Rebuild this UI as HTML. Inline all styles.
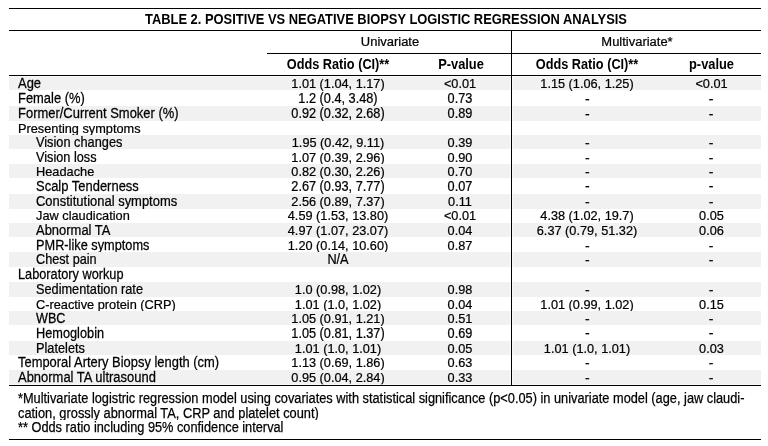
<!DOCTYPE html>
<html><head><meta charset="utf-8"><title>Table 2</title>
<style>
html,body{margin:0;padding:0;background:#fff;}
body{width:768px;height:446px;position:relative;overflow:hidden;font-family:"Liberation Sans",Arial,sans-serif;font-size:14px;color:#000;-webkit-text-stroke:0.25px #000;}
.l{position:absolute;background:#000;}
.h{position:absolute;background:rgba(255,255,255,.6);}
.r{position:absolute;left:9px;width:752px;}
.r.s{background:#f1f1f1;}
.r span{position:absolute;top:0.7px;line-height:14.76px;white-space:nowrap;text-align:center;transform:scaleX(0.909);transform-origin:50% 12.23px;}
.t{position:absolute;white-space:nowrap;text-align:center;transform:scaleX(0.926);transform-origin:50% 50%;}
.r span.d{top:1.6px;}
.b{font-weight:bold;-webkit-text-stroke:0;transform:scaleX(0.918) !important;}
.c0{left:9px;text-align:left !important;transform-origin:0 12.23px !important;}
.c0.i{left:27px;}
.c1{left:258px;width:142px;}
.c2{left:400px;width:102px;}
.c3{left:501.3px;width:154px;}
.c4{left:654.6px;width:95px;}
.f{position:absolute;left:18px;white-space:nowrap;transform:scaleX(0.915);transform-origin:0 0;}
</style></head><body>
<div class="r s" style="top:75.50px;height:14.90px"><div style="position:absolute;left:0;top:0px"><span class="c0" style="transform:scale(0.9260,1.0076)">Age</span><span class="c1" style="transform:scale(0.9090,0.9673)">1.01 (1.04, 1.17)</span><span class="c2" style="transform:scale(0.9090,0.9673)">&lt;0.01</span><span class="c3" style="transform:scale(0.9090,0.9673)">1.15 (1.06, 1.25)</span><span class="c4" style="transform:scale(0.9090,0.9673)">&lt;0.01</span></div></div>
<div class="r" style="top:90.40px;height:15.30px"><div style="position:absolute;left:0;top:0px"><span class="c0" style="transform:scale(0.9232,1.0293)">Female (%)</span><span class="c1" style="transform:scale(0.9090,0.9881)">1.2 (0.4, 3.48)</span><span class="c2" style="transform:scale(0.9090,0.9881)">0.73</span><span class="c3 d" style="top:1.6px;transform:scale(1.0,0.9881)">-</span><span class="c4 d" style="top:1.6px;transform:scale(1.0,0.9881)">-</span></div></div>
<div class="r s" style="top:105.70px;height:15.40px"><div style="position:absolute;left:0;top:0px"><span class="c0" style="transform:scale(0.9260,1.0347)">Former/Current Smoker (%)</span><span class="c1" style="transform:scale(0.9090,0.9933)">0.92 (0.32, 2.68)</span><span class="c2" style="transform:scale(0.9090,0.9933)">0.89</span><span class="c3 d" style="top:1.6px;transform:scale(1.0,0.9933)">-</span><span class="c4 d" style="top:1.6px;transform:scale(1.0,0.9933)">-</span></div></div>
<div class="r" style="top:121.10px;height:13.80px"><div style="position:absolute;left:0;top:-0.5px"><span class="c0" style="transform:scale(0.9103,0.9520)">Presenting symptoms</span></div></div>
<div class="r s" style="top:134.90px;height:14.40px"><div style="position:absolute;left:0;top:-0.9px"><span class="c0 i" style="transform:scale(0.9121,0.9805)">Vision changes</span><span class="c1" style="transform:scale(0.9090,0.9413)">1.95 (0.42, 9.11)</span><span class="c2" style="transform:scale(0.9090,0.9413)">0.39</span><span class="c3 d" style="top:0.5px;transform:scale(1.0,0.9413)">-</span><span class="c4 d" style="top:0.5px;transform:scale(1.0,0.9413)">-</span></div></div>
<div class="r" style="top:149.30px;height:14.75px"><div style="position:absolute;left:0;top:0px"><span class="c0 i" style="transform:scale(0.9075,0.9995)">Vision loss</span><span class="c1" style="transform:scale(0.9090,0.9595)">1.07 (0.39, 2.96)</span><span class="c2" style="transform:scale(0.9090,0.9595)">0.90</span><span class="c3 d" style="top:0.5px;transform:scale(1.0,0.9595)">-</span><span class="c4 d" style="top:0.5px;transform:scale(1.0,0.9595)">-</span></div></div>
<div class="r s" style="top:164.05px;height:14.35px"><div style="position:absolute;left:0;top:-0.9px"><span class="c0 i" style="transform:scale(0.9130,0.9778)">Headache</span><span class="c1" style="transform:scale(0.9090,0.9387)">0.82 (0.30, 2.26)</span><span class="c2" style="transform:scale(0.9090,0.9387)">0.70</span><span class="c3 d" style="top:0.5px;transform:scale(1.0,0.9387)">-</span><span class="c4 d" style="top:0.5px;transform:scale(1.0,0.9387)">-</span></div></div>
<div class="r" style="top:178.40px;height:15.90px"><div style="position:absolute;left:0;top:-0.3px"><span class="c0 i" style="transform:scale(0.9260,1.0400)">Scalp Tenderness</span><span class="c1" style="transform:scale(0.9090,0.9984)">2.67 (0.93, 7.77)</span><span class="c2" style="transform:scale(0.9090,0.9984)">0.07</span><span class="c3 d" style="top:1.4px;transform:scale(1.0,0.9984)">-</span><span class="c4 d" style="top:1.4px;transform:scale(1.0,0.9984)">-</span></div></div>
<div class="r s" style="top:194.30px;height:14.55px"><div style="position:absolute;left:0;top:-1.3px"><span class="c0 i" style="transform:scale(0.9260,0.9886)">Constitutional symptoms</span><span class="c1" style="transform:scale(0.9090,0.9491)">2.56 (0.89, 7.37)</span><span class="c2" style="transform:scale(0.9090,0.9491)">0.11</span><span class="c3 d" style="top:0.9px;transform:scale(1.0,0.9491)">-</span><span class="c4 d" style="top:0.9px;transform:scale(1.0,0.9491)">-</span></div></div>
<div class="r" style="top:208.85px;height:13.95px"><div style="position:absolute;left:0;top:-1.3px"><span class="c0 i" style="transform:scale(0.9130,0.9561)">Jaw claudication</span><span class="c1" style="transform:scale(0.9090,0.9179)">4.59 (1.53, 13.80)</span><span class="c2" style="transform:scale(0.9090,0.9179)">&lt;0.01</span><span class="c3" style="transform:scale(0.9090,0.9179)">4.38 (1.02, 19.7)</span><span class="c4" style="transform:scale(0.9090,0.9179)">0.05</span></div></div>
<div class="r s" style="top:222.80px;height:14.50px"><div style="position:absolute;left:0;top:-0.6px"><span class="c0 i" style="transform:scale(0.9260,0.9859)">Abnormal TA</span><span class="c1" style="transform:scale(0.9090,0.9465)">4.97 (1.07, 23.07)</span><span class="c2" style="transform:scale(0.9090,0.9465)">0.04</span><span class="c3" style="transform:scale(0.9090,0.9465)">6.37 (0.79, 51.32)</span><span class="c4" style="transform:scale(0.9090,0.9465)">0.06</span></div></div>
<div class="r" style="top:237.30px;height:15.10px"><div style="position:absolute;left:0;top:-0.4px"><span class="c0 i" style="transform:scale(0.9112,1.0184)">PMR-like symptoms</span><span class="c1" style="transform:scale(0.9090,0.9777)">1.20 (0.14, 10.60)</span><span class="c2" style="transform:scale(0.9090,0.9777)">0.87</span><span class="c3 d" style="top:0.9px;transform:scale(1.0,0.9777)">-</span><span class="c4 d" style="top:0.9px;transform:scale(1.0,0.9777)">-</span></div></div>
<div class="r s" style="top:252.40px;height:14.40px"><div style="position:absolute;left:0;top:-0.9px"><span class="c0 i" style="transform:scale(0.9056,0.9805)">Chest pain</span><span class="c1" style="transform:scale(0.9090,0.9805)">N/A</span><span class="c3 d" style="top:0.5px;transform:scale(1.0,0.9413)">-</span><span class="c4 d" style="top:0.5px;transform:scale(1.0,0.9413)">-</span></div></div>
<div class="r" style="top:266.80px;height:15.50px"><div style="position:absolute;left:0;top:-0.4px"><span class="c0" style="transform:scale(0.9103,1.0400)">Laboratory workup</span></div></div>
<div class="r s" style="top:282.30px;height:14.40px"><div style="position:absolute;left:0;top:-1.0px"><span class="c0 i" style="transform:scale(0.9103,0.9805)">Sedimentation rate</span><span class="c1" style="transform:scale(0.9090,0.9413)">1.0 (0.98, 1.02)</span><span class="c2" style="transform:scale(0.9090,0.9413)">0.98</span><span class="c3 d" style="top:0.5px;transform:scale(1.0,0.9413)">-</span><span class="c4 d" style="top:0.5px;transform:scale(1.0,0.9413)">-</span></div></div>
<div class="r" style="top:296.70px;height:13.80px"><div style="position:absolute;left:0;top:-0.4px"><span class="c0 i" style="transform:scale(0.9121,0.9520)">C-reactive protein (CRP)</span><span class="c1" style="transform:scale(0.9090,0.9139)">1.01 (1.0, 1.02)</span><span class="c2" style="transform:scale(0.9090,0.9139)">0.04</span><span class="c3" style="transform:scale(0.9090,0.9139)">1.01 (0.99, 1.02)</span><span class="c4" style="transform:scale(0.9090,0.9139)">0.15</span></div></div>
<div class="r s" style="top:310.50px;height:14.80px"><div style="position:absolute;left:0;top:-0.6px"><span class="c0 i" style="transform:scale(0.9029,1.0022)">WBC</span><span class="c1" style="transform:scale(0.9090,0.9621)">1.05 (0.91, 1.21)</span><span class="c2" style="transform:scale(0.9090,0.9621)">0.51</span><span class="c3 d" style="top:0.9px;transform:scale(1.0,0.9621)">-</span><span class="c4 d" style="top:0.9px;transform:scale(1.0,0.9621)">-</span></div></div>
<div class="r" style="top:325.30px;height:15.40px"><div style="position:absolute;left:0;top:0px"><span class="c0 i" style="transform:scale(0.9112,1.0347)">Hemoglobin</span><span class="c1" style="transform:scale(0.9090,0.9933)">1.05 (0.81, 1.37)</span><span class="c2" style="transform:scale(0.9090,0.9933)">0.69</span><span class="c3 d" style="top:0.9px;transform:scale(1.0,0.9933)">-</span><span class="c4 d" style="top:0.9px;transform:scale(1.0,0.9933)">-</span></div></div>
<div class="r s" style="top:340.70px;height:14.50px"><div style="position:absolute;left:0;top:-0.2px"><span class="c0 i" style="transform:scale(0.9121,0.9859)">Platelets</span><span class="c1" style="transform:scale(0.9090,0.9465)">1.01 (1.0, 1.01)</span><span class="c2" style="transform:scale(0.9090,0.9465)">0.05</span><span class="c3" style="transform:scale(0.9090,0.9465)">1.01 (1.0, 1.01)</span><span class="c4" style="transform:scale(0.9090,0.9465)">0.03</span></div></div>
<div class="r" style="top:355.20px;height:15.00px"><div style="position:absolute;left:0;top:-0.5px"><span class="c0" style="transform:scale(0.9232,1.0130)">Temporal Artery Biopsy length (cm)</span><span class="c1" style="transform:scale(0.9090,0.9725)">1.13 (0.69, 1.86)</span><span class="c2" style="transform:scale(0.9090,0.9725)">0.63</span><span class="c3 d" style="top:0.7px;transform:scale(1.0,0.9725)">-</span><span class="c4 d" style="top:0.7px;transform:scale(1.0,0.9725)">-</span></div></div>
<div class="r s" style="top:370.20px;height:15.00px"><div style="position:absolute;left:0;top:-0.8px"><span class="c0" style="transform:scale(0.9260,1.0130)">Abnormal TA ultrasound</span><span class="c1" style="transform:scale(0.9090,0.9725)">0.95 (0.04, 2.84)</span><span class="c2" style="transform:scale(0.9090,0.9725)">0.33</span><span class="c3 d" style="top:0.5px;transform:scale(1.0,0.9725)">-</span><span class="c4 d" style="top:0.5px;transform:scale(1.0,0.9725)">-</span></div></div>
<div class="h" style="left:8px;top:7px;width:754px;height:3px"></div>
<div class="h" style="left:8px;top:29px;width:754px;height:3px"></div>
<div class="h" style="left:266px;top:52px;width:496px;height:3px"></div>
<div class="h" style="left:8px;top:74px;width:754px;height:3px"></div>
<div class="h" style="left:8px;top:384px;width:754px;height:3px"></div>
<div class="h" style="left:8px;top:438px;width:754px;height:3px"></div>
<div class="h" style="left:510px;top:29px;width:3px;height:357px"></div>
<div class="l" style="left:9px;top:8px;width:752px;height:1px"></div>
<div class="l" style="left:9px;top:30px;width:752px;height:1px"></div>
<div class="l" style="left:267px;top:53px;width:494px;height:1px"></div>
<div class="l" style="left:9px;top:75px;width:752px;height:1px"></div>
<div class="l" style="left:9px;top:385px;width:752px;height:1px"></div>
<div class="l" style="left:9px;top:439px;width:752px;height:1px"></div>
<div class="l" style="left:511px;top:30px;width:1px;height:355px"></div>
<div class="t b" style="transform:scaleX(0.921) !important;left:9.7px;width:752px;top:9px;height:21px;line-height:21px">TABLE 2. POSITIVE VS NEGATIVE BIOPSY LOGISTIC REGRESSION ANALYSIS</div>
<div class="t" style="transform:scale(0.926,0.93);transform-origin:50% 15.85px;left:268px;width:244px;top:29.7px;height:22px;line-height:22px">Univariate</div>
<div class="t" style="transform:scale(0.926,0.93);transform-origin:50% 15.85px;left:512px;width:250px;top:29.7px;height:22px;line-height:22px">Multivariate*</div>
<div class="t b" style="transform:scaleX(0.909) !important;left:267px;width:142px;top:54px;height:21px;line-height:21px">Odds Ratio (CI)**</div>
<div class="t b" style="left:409.7px;width:102px;top:54px;height:21px;line-height:21px">P-value</div>
<div class="t b" style="transform:scaleX(0.909) !important;left:510.4px;width:154px;top:54px;height:21px;line-height:21px">Odds Ratio (CI)**</div>
<div class="t b" style="left:663.5px;width:95px;top:54px;height:21px;line-height:21px">p-value</div>
<div class="f" style="top:391px;line-height:14.5px;transform:scaleX(0.913)">*Multivariate logistric regression model using covariates with statistical significance (p&lt;0.05) in univariate model (age, jaw claudi-</div>
<div class="f" style="top:406.3px;line-height:14.5px;transform:scaleX(0.916)">cation, grossly abnormal TA, CRP and platelet count)</div>
<div style="position:absolute;left:9px;top:419.6px;width:752px;height:19.4px;background:#fff"></div>
<div class="f" style="top:420px;line-height:14.5px;transform:scaleX(0.912)">** Odds ratio including 95% confidence interval</div>
</body></html>
